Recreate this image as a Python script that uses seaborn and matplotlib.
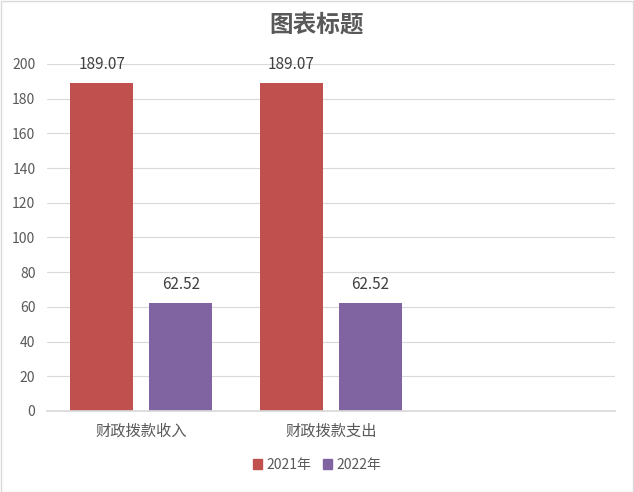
import matplotlib
matplotlib.use("Agg")
import matplotlib.pyplot as plt
import seaborn as sns
import pandas as pd
from matplotlib.patches import Rectangle

categories = ["财政拨款收入", "财政拨款支出", " "]
series_names = ["2021年", "2022年"]
values_2021 = [189.07, 189.07]
values_2022 = [62.52, 62.52]
y_ticks = [0, 20, 40, 60, 80, 100, 120, 140, 160, 180, 200]
title = "图表标题"
colors = ["#C0504D", "#8064A2"]

sns.set_theme(style="white")
plt.rcParams["font.family"] = ["Noto Sans CJK SC", "DejaVu Sans"]

rows = []
for c, v in zip(categories[:2], values_2021):
    rows.append({"cat": c, "series": series_names[0], "value": v})
for c, v in zip(categories[:2], values_2022):
    rows.append({"cat": c, "series": series_names[1], "value": v})
df = pd.DataFrame(rows)

fig = plt.figure(figsize=(6.34, 4.92), dpi=100)
ax = fig.add_axes([46.5 / 634, 1 - 411 / 492, (615 - 46.5) / 634, (411 - 64) / 492])

sns.barplot(data=df, x="cat", y="value", hue="series", order=categories,
            hue_order=series_names, palette=colors, width=0.834, gap=0.2,
            saturation=1, ax=ax, errorbar=None, legend=False, linewidth=0)

ax.set_ylim(0, 200)
ax.set_xlim(-0.5, 2.5)
ax.set_yticks(y_ticks)
ax.set_xlabel("")
ax.set_ylabel("")
ax.grid(axis="y", color="#d9d9d9", linewidth=0.8)
ax.set_axisbelow(True)
for s in ["top", "right", "left"]:
    ax.spines[s].set_visible(False)
ax.spines["bottom"].set_color("#d9d9d9")
ax.tick_params(axis="both", length=0, colors="#595959", labelsize=10)
ax.tick_params(axis="y", pad=8)
ax.tick_params(axis="x", pad=8, labelsize=11)
ax.set_xticks(range(len(categories)))
ax.set_xticklabels(categories)

for cont in ax.containers:
    ax.bar_label(cont, fmt="%.2f", padding=7, fontsize=11, color="#404040", clip_on=False)

fig.text(0.5, 1 - 25 / 492, title, ha="center", va="center", fontsize=17,
         fontweight="bold", color="#595959")

handles = [Rectangle((0, 0), 1, 1, color=c) for c in colors]
fig.legend(handles, series_names, loc="center", bbox_to_anchor=(0.5, 1 - 465 / 492),
           ncol=2, frameon=False, fontsize=10, handlelength=0.7, handleheight=0.7,
           handletextpad=0.3, columnspacing=0.8, labelcolor="#595959")

fig.patches.append(Rectangle((0.5 / 634, 0.5 / 492), 1 - 1.5 / 634, 1 - 1.5 / 492,
                             transform=fig.transFigure, fill=False,
                             edgecolor="#d9d9d9", linewidth=1))

fig.savefig("out.png", dpi=100)
